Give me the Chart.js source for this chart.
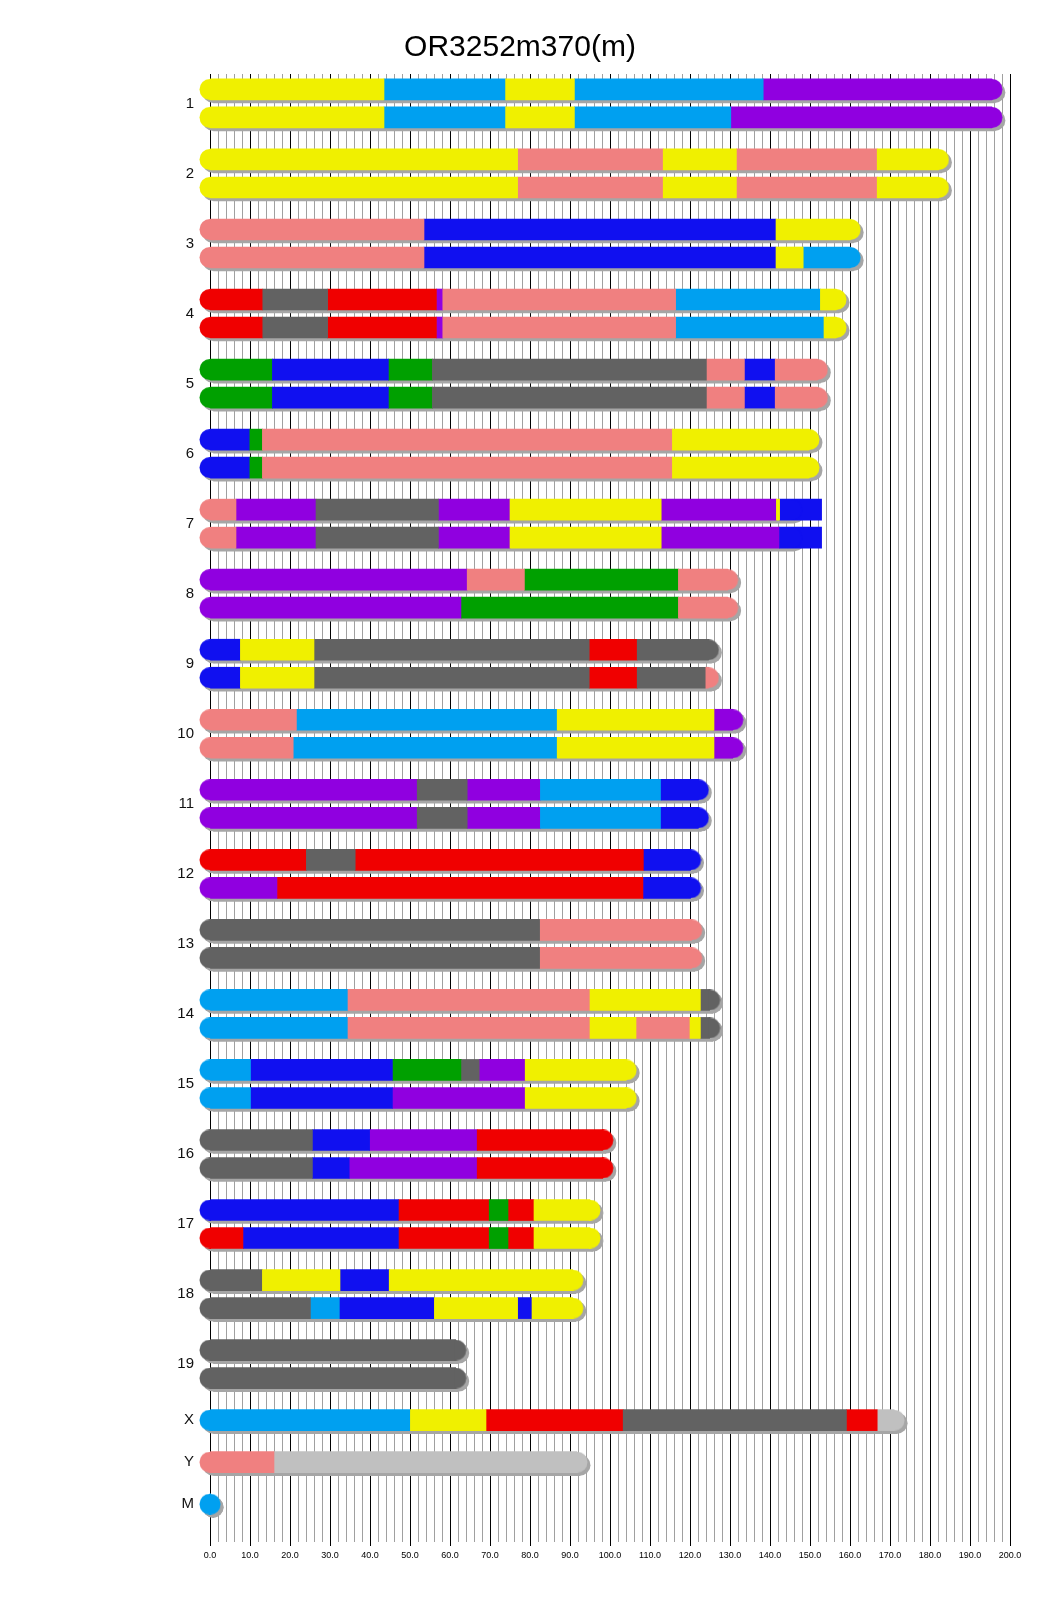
<!DOCTYPE html>
<html>
<head>
<meta charset="utf-8">
<title>OR3252m370(m)</title>
<script src="https://cdn.jsdelivr.net/npm/chart.js@4.4.1/dist/chart.umd.min.js"></script>
<style>
  html, body { margin: 0; padding: 0; background: #fff; }
  #wrap { width: 1040px; height: 1616px; }
</style>
</head>
<body>
<div id="wrap"><canvas id="chart" width="1040" height="1616"></canvas></div>
<script>
// Haplotype mosaic of OR3252m370(m), positions in Mb

const chromNames = ['1', '2', '3', '4', '5', '6', '7', '8', '9', '10', '11', '12',
    '13', '14', '15', '16', '17', '18', '19', 'X', 'Y', 'M'];

const chromLengths = [195.47, 182.11, 160.04, 156.51, 151.83, 149.74, 145.44, 129.40,
    124.60, 130.69, 122.08, 120.13, 120.42, 124.90, 104.04, 98.21, 94.99, 90.70,
    61.43, 171.03, 91.74, 0.016];

// founder letter -> colour
const founderCodes = ['A', 'B', 'C', 'D', 'E', 'F', 'G', 'H', 'N'];
const founderColors = ['#F0F000', '#626262', '#F08080', '#1010F0', '#00A0F0',
    '#00A000', '#F00000', '#9000E0', '#C0C0C0'];

// each haplotype: founder letter followed by the end of that segment (Mb)
const haploA = [
    'A 43.5 E 73.9 A 91.1 E 138.3 H 195.47',
    'A 76.9 C 113.3 A 131.6 C 166.8 A 182.11',
    'C 53.5 D 141.5 A 160.04',
    'G 13.2 B 29.4 G 56.6 H 58.2 C 116.4 E 152.6 A 156.51',
    'F 15.6 D 44.6 F 55.6 B 124.1 C 133.6 D 141.3 C 151.83',
    'D 9.8 F 13.1 C 115.6 A 149.74',
    'C 6.5 H 26.5 B 57.1 H 75.0 A 112.8 H 141.6 A 142.4 D 152.9',
    'H 64.3 C 78.6 F 117.1 C 129.40',
    'D 7.6 A 26.0 B 94.8 G 106.8 B 124.60',
    'C 21.6 E 86.8 A 126.0 H 130.69',
    'H 51.8 B 64.3 H 82.6 E 112.8 D 122.08',
    'G 24.1 B 36.3 G 108.5 D 120.13',
    'B 82.4 C 120.42',
    'E 34.5 C 95.0 A 122.6 B 124.90',
    'E 10.3 D 45.6 F 62.9 B 67.3 H 78.8 A 104.04',
    'B 25.6 D 39.9 H 66.8 G 98.21',
    'D 47.1 G 69.8 F 74.5 G 81.0 A 94.99',
    'B 13.1 A 32.5 D 44.8 A 90.70',
    'B 61.43',
    'E 50.1 A 69.0 G 103.3 B 159.1 G 166.8 N 171.03',
    'C 16.0 N 91.74',
    'E 0.016'
];

const haploB = [
    'A 43.5 E 73.9 A 91.1 E 130.2 H 195.47',
    'A 76.9 C 113.3 A 131.6 C 166.8 A 182.11',
    'C 53.5 D 141.5 A 148.3 E 160.04',
    'G 13.2 B 29.4 G 56.6 H 58.2 C 116.4 E 153.5 A 156.51',
    'F 15.6 D 44.6 F 55.6 B 124.1 C 133.6 D 141.3 C 151.83',
    'D 9.8 F 13.1 C 115.6 A 149.74',
    'C 6.5 H 26.5 B 57.1 H 75.0 A 112.8 H 142.4 D 152.9',
    'H 62.9 F 117.1 C 129.40',
    'D 7.6 A 26.0 B 94.8 G 106.8 B 123.8 C 124.60',
    'C 20.8 E 86.8 A 126.0 H 130.69',
    'H 51.8 B 64.3 H 82.6 E 112.8 D 122.08',
    'H 16.9 G 108.4 D 120.13',
    'B 82.4 C 120.42',
    'E 34.5 C 95.0 A 106.5 C 120.0 A 122.6 B 124.90',
    'E 10.3 D 45.6 H 78.8 A 104.04',
    'B 25.6 D 34.8 H 66.8 G 98.21',
    'G 8.4 D 47.1 G 69.8 F 74.5 G 81.0 A 94.99',
    'B 25.1 E 32.5 D 56.1 A 76.9 D 80.5 A 90.70',
    'B 61.43',
    null,
    null,
    null
];

const SHADOW = '#A6A6A6';
const FONT = "'Liberation Sans', Arial, sans-serif";

function parseHaplo(str) {
    const tokens = str.trim().split(/\s+/);
    const segs = [];
    let start = 0;
    for (let k = 0; k < tokens.length; k += 2) {
        const end = parseFloat(tokens[k + 1]);
        segs.push({ code: tokens[k], start: start, end: end });
        start = end;
    }
    return segs;
}

function colorOf(code) {
    return founderColors[founderCodes.indexOf(code)];
}

function isMajor(ctx) {
    return !!(ctx.tick && Math.round(ctx.tick.value) % 10 === 0);
}

// half round end for a chromosome, drawn as a point image
const capCache = {};
function capImage(color, side) {
    const key = color + side;
    if (capCache[key]) return capCache[key];
    const c = document.createElement('canvas');
    c.width = 22;
    c.height = 21;
    const g = c.getContext('2d');
    g.fillStyle = color;
    g.beginPath();
    if (side === 'left') {
        g.arc(11, 10.5, 10.5, Math.PI / 2, Math.PI * 1.5);
        g.lineTo(12, 0);
        g.lineTo(12, 21);
    } else {
        g.arc(11, 10.5, 10.5, -Math.PI / 2, Math.PI / 2);
        g.lineTo(10, 21);
        g.lineTo(10, 0);
    }
    g.closePath();
    g.fill();
    capCache[key] = c;
    return c;
}

// rows: two per autosome, one for X, Y, M
const rows = [];
const labelPos = [];
let pos = 0;
chromNames.forEach(function(name, i) {
    rows.push({ chrom: i, pos: pos, segs: parseHaplo(haploA[i]) });
    if (haploB[i]) {
        rows.push({ chrom: i, pos: pos + 2, segs: parseHaplo(haploB[i]) });
        labelPos.push(pos + 1);
        pos += 5;
    } else {
        labelPos.push(pos);
        pos += 3;
    }
});

const datasets = [];

// shadow under every chromosome
datasets.push({
    type: 'bar',
    indexAxis: 'y',
    shadow: true,
    data: rows.map(r => ({ x: [0, chromLengths[r.chrom]], y: r.pos })),
    backgroundColor: SHADOW,
    barThickness: 21,
    grouped: false,
    order: 4,
    clip: false
});
datasets.push({
    type: 'scatter',
    shadow: true,
    data: rows.flatMap(r => [{ x: 0, y: r.pos }, { x: chromLengths[r.chrom], y: r.pos }]),
    pointStyle: 'circle',
    pointRadius: 10.5,
    pointBorderWidth: 0,
    backgroundColor: SHADOW,
    borderColor: SHADOW,
    order: 3,
    clip: false
});

// one bar dataset per founder
founderCodes.forEach(function(code, f) {
    datasets.push({
        type: 'bar',
        indexAxis: 'y',
        label: code,
        data: rows.flatMap(r => r.segs.filter(s => s.code === code)
            .map(s => ({ x: [s.start, s.end], y: r.pos }))),
        backgroundColor: founderColors[f],
        barThickness: 21,
        grouped: false,
        order: 2,
        clip: false
    });
});

// rounded ends, coloured like the segment they close
const capData = [];
const capStyles = [];
rows.forEach(function(r) {
    const len = chromLengths[r.chrom];
    const first = r.segs[0];
    const last = r.segs.find(s => s.end >= len) || r.segs[r.segs.length - 1];
    capData.push({ x: 0, y: r.pos });
    capStyles.push(capImage(colorOf(first.code), 'left'));
    capData.push({ x: len, y: r.pos });
    capStyles.push(capImage(colorOf(last.code), 'right'));
});
datasets.push({
    type: 'scatter',
    data: capData,
    pointStyle: capStyles,
    pointRadius: 11,
    pointBorderWidth: 0,
    order: 1,
    clip: false
});

const shadowShift = {
    id: 'shadowShift',
    beforeDatasetDraw(chart, args) {
        if (chart.data.datasets[args.index].shadow) {
            chart.ctx.save();
            chart.ctx.translate(3, 3);
        }
    },
    afterDatasetDraw(chart, args) {
        if (chart.data.datasets[args.index].shadow) {
            chart.ctx.restore();
        }
    }
};

new Chart(document.getElementById('chart'), {
    type: 'bar',
    data: { datasets: datasets },
    plugins: [shadowShift],
    options: {
        responsive: false,
        animation: false,
        events: [],
        layout: { padding: 0 },
        plugins: {
            legend: { display: false },
            tooltip: { enabled: false },
            title: {
                display: true,
                text: 'OR3252m370(m)',
                color: '#000',
                font: { family: FONT, size: 30, weight: 'normal' },
                padding: { top: 30, bottom: 8 }
            }
        },
        scales: {
            x: {
                type: 'linear',
                position: 'bottom',
                min: 0,
                max: 200,
                offset: false,
                border: { display: false },
                grid: {
                    offset: false,
                    color: ctx => isMajor(ctx) ? '#000' : '#A0A0A0',
                    tickColor: ctx => isMajor(ctx) ? '#000' : 'rgba(0,0,0,0)',
                    lineWidth: 1,
                    drawTicks: true,
                    tickLength: 4
                },
                ticks: {
                    stepSize: 2,
                    maxTicksLimit: 200,
                    autoSkip: false,
                    maxRotation: 0,
                    padding: 4,
                    color: '#000',
                    font: { family: FONT, size: 9 },
                    callback: v => Math.round(v) % 10 === 0 ? v.toFixed(1) : ''
                },
                afterFit: scale => { scale.height = 74; }
            },
            y: {
                type: 'linear',
                reverse: true,
                min: -1.1,
                max: 103.7,
                offset: false,
                border: { display: false },
                grid: { display: false, drawTicks: false, offset: false },
                afterBuildTicks: scale => {
                    scale.ticks = labelPos.map(v => ({ value: v }));
                },
                ticks: {
                    autoSkip: false,
                    padding: 16,
                    color: '#111',
                    font: { family: FONT, size: 15 },
                    callback: (v, i) => chromNames[i]
                },
                afterFit: scale => { scale.width = 210; }
            },
            // empty right margin so the title stays centred on the page
            yRight: {
                type: 'linear',
                position: 'right',
                display: true,
                border: { display: false },
                grid: { display: false, drawTicks: false },
                ticks: { display: false },
                afterFit: scale => { scale.width = 30; }
            }
        }
    }
});
</script>
</body>
</html>
